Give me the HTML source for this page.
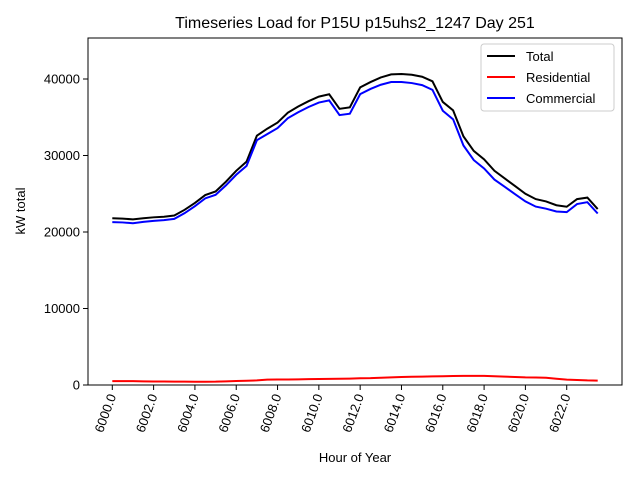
<!DOCTYPE html>
<html><head><meta charset="utf-8"><style>body{margin:0;background:#fff}svg{font-family:"Liberation Sans","DejaVu Sans",sans-serif}</style></head>
<body>
<svg id="chart" width="640" height="480" xmlns="http://www.w3.org/2000/svg">
<rect width="640" height="480" fill="#fff"/>
<text x="355" y="28" font-size="16" text-anchor="middle">Timeseries Load for P15U p15uhs2_1247  Day 251</text>
<g id="ticks"></g>
<g id="lines"></g>
<rect x="88" y="38" width="534" height="347" fill="none" stroke="#000" stroke-width="1"/>
<text x="355" y="462" font-size="13" text-anchor="middle">Hour of Year</text>
<text x="25" y="211" font-size="13" text-anchor="middle" transform="rotate(-90 25 211)">kW total</text>
<g>
<rect x="481" y="44" width="133" height="67" fill="#fff" stroke="#ccc" rx="3"/>
<line x1="487" y1="56" x2="515" y2="56" stroke="#000" stroke-width="2"/>
<text x="526" y="61" font-size="13">Total</text>
<line x1="487" y1="77" x2="515" y2="77" stroke="#f00" stroke-width="2"/>
<text x="526" y="82" font-size="13">Residential</text>
<line x1="487" y1="98" x2="515" y2="98" stroke="#00f" stroke-width="2"/>
<text x="526" y="103" font-size="13">Commercial</text>
</g>
</svg>
<script>
const hours = [];
for (let i = 0; i < 48; i++) hours.push(6000 + i * 0.5);
const total = [21790,21750,21650,21800,21920,22000,22150,22900,23800,24830,25300,26570,28000,29200,32600,33500,34300,35600,36400,37100,37700,38000,36100,36300,38900,39600,40200,40600,40650,40550,40300,39700,37000,35900,32500,30600,29500,28000,27000,26000,25000,24300,24000,23500,23300,24300,24500,23000];
const residential = [500,500,500,480,460,450,440,440,430,430,440,480,520,560,600,700,720,720,740,760,780,800,820,840,880,900,950,1000,1050,1080,1100,1120,1150,1170,1190,1200,1200,1150,1100,1050,1000,980,950,820,700,650,600,580];
const commercial = [21290,21250,21150,21320,21460,21550,21710,22460,23370,24400,24860,26090,27480,28640,32000,32800,33580,34880,35660,36340,36920,37200,35280,35460,38020,38700,39250,39600,39600,39470,39200,38580,35850,34730,31310,29400,28300,26850,25900,24950,24000,23320,23050,22680,22600,23650,23900,22420];
const xTicks = [6000,6002,6004,6006,6008,6010,6012,6014,6016,6018,6020,6022];
const yTicks = [0,10000,20000,30000,40000];
const X = h => 112.3 + (h - 6000) * (485.4 / 23.5);
const Y = v => 385 - v * (306 / 40000);
const NS = "http://www.w3.org/2000/svg";
const tg = document.getElementById('ticks');
function mk(tag, attrs, parent) { const e = document.createElementNS(NS, tag); for (const k in attrs) e.setAttribute(k, attrs[k]); parent.appendChild(e); return e; }
xTicks.forEach(t => {
  const x = X(t);
  const l = mk('line', {x1:x, y1:385, x2:x, y2:390, stroke:'#000'}, tg);
  
  
  const tx = mk('text', {x:x+4, y:396, 'font-size':13, 'text-anchor':'end', transform:`rotate(-70 ${x+4} 396)`}, tg);
  tx.textContent = t.toFixed(1);
  
  
});
yTicks.forEach(t => {
  const y = Y(t);
  const l = mk('line', {x1:83, y1:y, x2:88, y2:y, stroke:'#000'}, tg);
  
  
  const tx = mk('text', {x:80, y:y+4.5, 'font-size':13, 'text-anchor':'end'}, tg);
  tx.textContent = t;
  
  
});
const lg = document.getElementById('lines');
function line(vals, color, name) {
  const p = mk('polyline', {points: vals.map((v,i) => X(hours[i]) + ',' + Y(v)).join(' '), fill:'none', stroke:color, 'stroke-width':2}, lg);
  
  
}
line(total, '#000', 'total-line');
line(residential, '#f00', 'residential-line');
line(commercial, '#00f', 'commercial-line');
</script>
</body></html>
